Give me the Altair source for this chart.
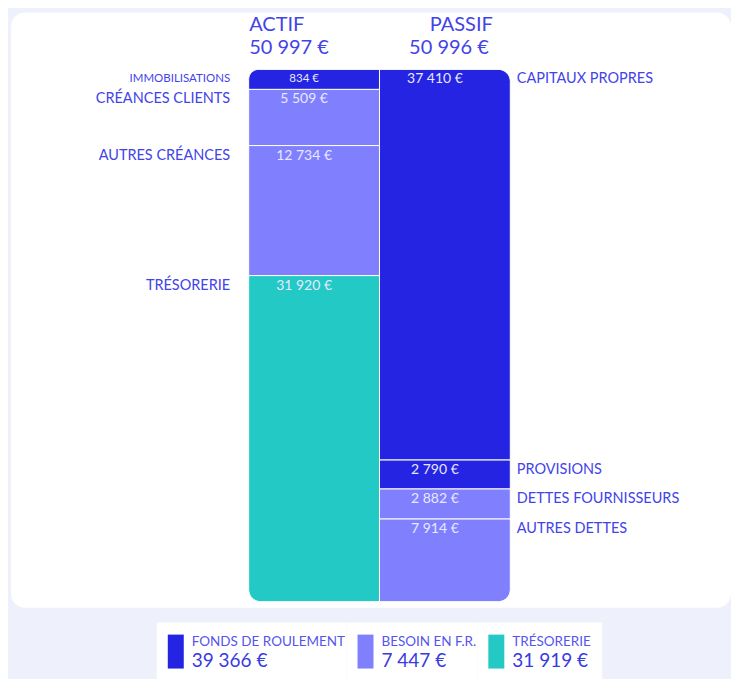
import altair as alt
import pandas as pd

# ---------------- data ----------------
sides = ["ACTIF", "ACTIF", "ACTIF", "ACTIF", "PASSIF", "PASSIF", "PASSIF", "PASSIF"]
items = ["IMMOBILISATIONS", "CRÉANCES CLIENTS", "AUTRES CRÉANCES", "TRÉSORERIE",
         "CAPITAUX PROPRES", "PROVISIONS", "DETTES FOURNISSEURS", "AUTRES DETTES"]
values = [834, 5509, 12734, 31920, 37410, 2790, 2882, 7914]
groups = ["FR", "BFR", "BFR", "TRESO", "FR", "FR", "BFR", "BFR"]

legend_names = ["FONDS DE ROULEMENT", "BESOIN EN F.R.", "TRÉSORERIE"]
legend_values = [39366, 7447, 31919]
legend_keys = ["FR", "BFR", "TRESO"]

# ---------------- style ----------------
COLORS = ["#2424e2", "#8080ff", "#22c9c5"]
TXT = "#4343ea"
FONT = "Lato"
MIN_SHOWN = 1950  # minimum displayed height for tiny segments


def fmt(v):
    return f"{v:,}".replace(",", " ") + " €"


df = pd.DataFrame({"side": sides, "item": items, "value": values, "group": groups})
df["order"] = df.groupby("side").cumcount()
df["last"] = df["order"] == df.groupby("side")["order"].transform("max")
df["shown"] = df["value"].clip(lower=MIN_SHOWN)
df["label"] = df["value"].map(fmt)

hdr = df.groupby("side", as_index=False)["value"].sum()
hdr["total"] = hdr["value"].map(fmt)

xscale = alt.Scale(domain=["ACTIF", "PASSIF"], range=[238, 500], paddingInner=0, paddingOuter=0)
yscale = alt.Scale(domain=[0, 1], range=[57, 590])
cscale = alt.Scale(domain=legend_keys, range=COLORS)

X = alt.X("side:N", scale=xscale, axis=None)

base = alt.Chart(df).transform_stack(
    stack="shown", groupby=["side"], as_=["y0", "y1"], offset="normalize",
    sort=[alt.SortField("order", order="ascending")],
)

enc = dict(
    x=X,
    y=alt.Y("y0:Q", scale=yscale, axis=None),
    y2="y1:Q",
    color=alt.Color("group:N", scale=cscale, legend=None),
)

R = 12
mid = base.transform_filter("datum.order > 0 && !datum.last").mark_rect(
    stroke="white", strokeWidth=1).encode(**enc)
tl = base.transform_filter("datum.side == 'ACTIF' && datum.order == 0").mark_rect(
    stroke="white", strokeWidth=1, cornerRadiusTopLeft=R).encode(**enc)
tr = base.transform_filter("datum.side == 'PASSIF' && datum.order == 0").mark_rect(
    stroke="white", strokeWidth=1, cornerRadiusTopRight=R).encode(**enc)
bl = base.transform_filter("datum.side == 'ACTIF' && datum.last").mark_rect(
    stroke="white", strokeWidth=1, cornerRadiusBottomLeft=R).encode(**enc)
br = base.transform_filter("datum.side == 'PASSIF' && datum.last").mark_rect(
    stroke="white", strokeWidth=1, cornerRadiusBottomRight=R).encode(**enc)

Ytxt = alt.Y("y0:Q", scale=yscale, axis=None)
small = "datum.value < 1000"

vals = base.mark_text(align="center", baseline="middle", dx=-10, dy=10,
                      color="#e8e8ff", font=FONT).encode(
    x=X, y=Ytxt, text="label:N",
    size=alt.condition(small, alt.value(11.5), alt.value(14)),
)

left_lab = base.transform_filter("datum.side == 'ACTIF'").mark_text(
    align="right", baseline="middle", dx=-84, dy=10, color=TXT, font=FONT).encode(
    x=X, y=Ytxt, text="item:N",
    size=alt.condition(small, alt.value(11.5), alt.value(14.5)),
)
right_lab = base.transform_filter("datum.side == 'PASSIF'").mark_text(
    align="left", baseline="middle", dx=72, dy=10, color=TXT, font=FONT, fontSize=14.5).encode(
    x=X, y=Ytxt, text="item:N",
)

hbase = alt.Chart(hdr)
HS = 20
h_a1 = hbase.transform_filter("datum.side == 'ACTIF'").mark_text(
    align="left", baseline="middle", dx=-65, fontSize=HS, color=TXT, font=FONT).encode(
    x=X, y=alt.value(13), text="side:N")
h_a2 = hbase.transform_filter("datum.side == 'ACTIF'").mark_text(
    align="left", baseline="middle", dx=-65, fontSize=HS, color=TXT, font=FONT).encode(
    x=X, y=alt.value(36), text="total:N")
h_p1 = hbase.transform_filter("datum.side == 'PASSIF'").mark_text(
    align="right", baseline="middle", dx=48, fontSize=HS, color=TXT, font=FONT).encode(
    x=X, y=alt.value(13), text="side:N")
h_p2 = hbase.transform_filter("datum.side == 'PASSIF'").mark_text(
    align="right", baseline="middle", dx=44, fontSize=HS, color=TXT, font=FONT).encode(
    x=X, y=alt.value(36), text="total:N")

card = alt.layer(mid, tl, tr, bl, br, vals, left_lab, right_lab, h_a1, h_a2, h_p1, h_p2).properties(
    width=721, height=596,
    view=alt.ViewBackground(fill="white", cornerRadius=14, strokeWidth=0),
)

# ---------------- legend ----------------
leg = pd.DataFrame({"key": legend_keys, "name": legend_names, "value": legend_values})
leg["label"] = leg["value"].map(fmt)

spacer = alt.Chart(pd.DataFrame({"a": [0]})).mark_point(opacity=0).encode(
    x=alt.value(0), y=alt.value(0)
).properties(width=146, height=58,
             view=alt.ViewBackground(fill="transparent", strokeWidth=0))

widths = [190, 131, 125]
parts = [spacer]
for k, w in zip(legend_keys, widths):
    b = alt.Chart(leg).transform_filter(alt.datum.key == k)
    sw = b.mark_rect().encode(
        x=alt.value(11), x2=alt.value(27), y=alt.value(12), y2=alt.value(46),
        color=alt.Color("key:N", scale=cscale, legend=None),
    )
    t1 = b.mark_text(align="left", baseline="middle", fontSize=13.5, color="#5555ee",
                     font=FONT).encode(x=alt.value(35), y=alt.value(19), text="name:N")
    t2 = b.mark_text(align="left", baseline="middle", fontSize=19, color="#3a3ae2",
                     font=FONT).encode(x=alt.value(35), y=alt.value(38), text="label:N")
    parts.append(alt.layer(sw, t1, t2).properties(
        width=w, height=58,
        view=alt.ViewBackground(fill="white", strokeWidth=0)))

legend = alt.hconcat(*parts, spacing=0)

chart = alt.vconcat(card, legend, spacing=12).configure(
    background="#eef1fb",
    padding={"left": 0, "top": 4, "right": 0, "bottom": 0},
    font=FONT,
).configure_view(strokeWidth=0)

chart.save("out.html", embed_options={"renderer": "svg", "actions": False})
